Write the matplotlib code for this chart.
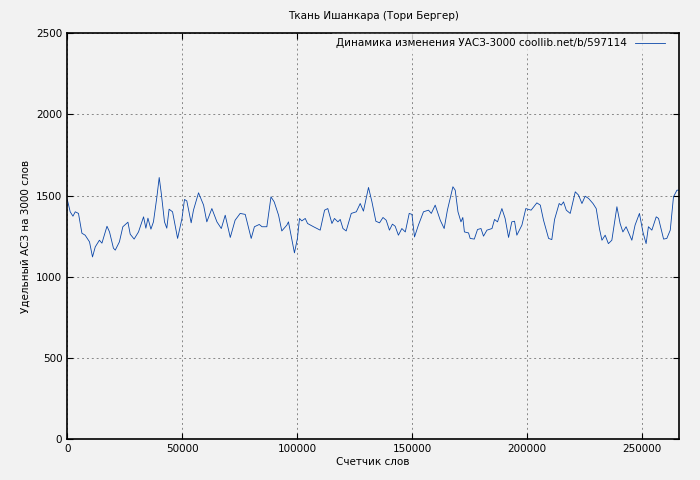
import matplotlib
matplotlib.use("Agg")
import matplotlib.pyplot as plt

# words counter, thousands
words_k = [0.1, 1.3, 2.5, 3.5, 4.9, 6.4, 7.8, 9.7, 11.0, 12.2, 14.0, 15.1, 17.3, 18.4, 20.1, 20.9,
           22.7, 24.2, 26.4, 27.4, 29.1, 31.0, 33.2, 34.2, 35.1, 36.4, 37.5, 39.0, 40.0, 40.9, 42.3,
           43.3, 44.3, 45.8, 48.0, 49.9, 51.0, 52.0, 53.9, 54.9, 57.1, 59.3, 60.7, 62.9, 65.1, 67.0,
           68.7, 70.9, 73.0, 75.2, 77.4, 80.0, 81.4, 83.5, 84.7, 86.8, 88.6, 90.0, 91.9, 93.3, 95.5,
           96.2, 98.8, 100.1, 101.0, 102.0, 103.5, 104.5, 107.1, 110.0, 111.9, 113.3, 115.1, 116.2,
           117.7, 118.7, 119.9, 121.3, 123.5, 125.7, 127.4, 128.8, 131.0, 132.5, 134.2, 135.8,
           137.3, 138.7, 140.1, 141.4, 142.6, 144.0, 145.5, 147.0, 148.7, 149.9, 151.0, 152.7,
           154.9, 157.1, 158.3, 160.0, 162.2, 163.9, 165.3, 166.5, 167.7, 168.7, 169.9, 171.2,
           172.0, 172.7, 174.5, 175.2, 177.0, 178.4, 179.9, 181.0, 182.5, 184.7, 185.8, 187.1,
           189.0, 190.4, 191.9, 193.3, 194.5, 195.5, 197.7, 199.4, 201.7, 204.2, 205.7, 207.1,
           209.3, 210.7, 211.9, 213.9, 214.8, 215.8, 217.0, 218.7, 220.9, 222.3, 223.8, 225.2,
           226.7, 228.6, 230.0, 231.4, 232.5, 233.9, 235.3, 236.8, 239.0, 240.4, 241.6, 243.0,
           245.5, 246.9, 248.8, 250.3, 251.7, 252.7, 254.2, 256.1, 257.1, 259.3, 260.7, 262.2,
           263.6, 265.1, 265.8]
uasz = [1472, 1400, 1373, 1400, 1390, 1268, 1256, 1215, 1122, 1184, 1225, 1207, 1311, 1276, 1176, 1164,
        1215, 1308, 1336, 1262, 1232, 1276, 1369, 1299, 1361, 1293, 1338, 1492, 1611, 1514, 1338,
        1299, 1416, 1400, 1236, 1359, 1476, 1467, 1332, 1410, 1517, 1441, 1338, 1420, 1338, 1297,
        1379, 1242, 1348, 1390, 1384, 1236, 1308, 1322, 1308, 1308, 1492, 1461, 1379, 1282, 1318,
        1338, 1147, 1236, 1359, 1344, 1359, 1328, 1308, 1287, 1410, 1420, 1328, 1359, 1338, 1353,
        1297, 1282, 1390, 1400, 1451, 1404, 1550, 1461, 1342, 1332,
        1365, 1348, 1287, 1324, 1311, 1256, 1297, 1276, 1390, 1384, 1245, 1318,
        1400, 1410, 1390, 1441, 1348, 1297, 1410, 1482, 1554, 1533, 1400, 1338,
        1365, 1276, 1270, 1236, 1232, 1291, 1297, 1250, 1287, 1297, 1353, 1338,
        1420, 1359, 1242, 1338, 1342, 1256, 1318, 1420, 1410, 1455, 1441, 1348,
        1236, 1229, 1353, 1451, 1441, 1461, 1410, 1390, 1523, 1503, 1451, 1496,
        1482, 1451, 1420, 1297, 1225, 1256, 1204, 1225, 1431, 1328, 1276, 1308,
        1225, 1318, 1390, 1276, 1204, 1308, 1287, 1369, 1359, 1232, 1236, 1287,
        1492, 1533, 1533]
words = [w * 1000 for w in words_k]

plt.rcParams["font.family"] = "DejaVu Sans"
plt.rcParams["font.size"] = 7.5

fig = plt.figure(figsize=(7, 4.8), dpi=100, facecolor="#f2f2f2")
ax = fig.add_axes([0.096, 0.085, 0.874, 0.846], facecolor="#f2f2f2")
ax.plot(words, uasz, color="#0a46a8", linewidth=0.6,
        label="Динамика изменения УАСЗ-3000 coollib.net/b/597114")
ax.set_xlim(0, 266000)
ax.set_ylim(0, 2500)
ax.set_xticks([0, 50000, 100000, 150000, 200000, 250000])
ax.set_yticks([0, 500, 1000, 1500, 2000, 2500])
ax.grid(True, linestyle=(0, (2, 3)), color="#888888", linewidth=0.7)
ax.tick_params(direction="in", top=True, right=True, length=4)
for s in ax.spines.values():
    s.set_linewidth(1.2)
ax.set_xlabel("Счетчик слов", labelpad=2)
ax.set_ylabel("Удельный АСЗ на 3000 слов")
ax.set_title("Ткань Ишанкара (Тори Бергер)", fontsize=7.5, pad=10)
leg = ax.legend(loc="upper right", frameon=True, markerfirst=False, handlelength=2.8,
                borderaxespad=0.1, fancybox=False, bbox_to_anchor=(0.985, 1.0))
leg.get_frame().set_facecolor("#f2f2f2")
leg.get_frame().set_edgecolor("#f2f2f2")
fig.savefig("out.png", dpi=100, facecolor=fig.get_facecolor())
